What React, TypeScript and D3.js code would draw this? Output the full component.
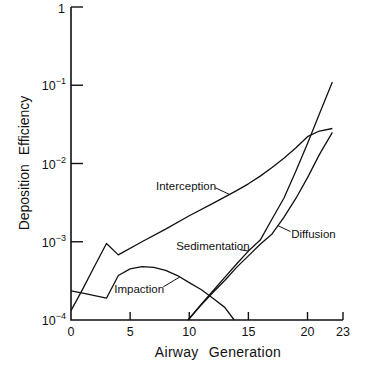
import React, { useEffect, useRef } from 'react';
import * as d3 from 'd3';

// airway generation ticks and decade ticks
const xTicks = [5, 10, 15, 20, 23];
const xTickLabels = [0, 5, 10, 15, 20, 23];
const yTicks = [1e-3, 1e-2, 1e-1, 1];
const yTickExp = [-4, -3, -2, -1];

// series (generation, deposition efficiency)
const interceptionGen = [0, 1, 2, 3, 4, 6, 8, 10, 12, 14, 15, 16, 17, 18, 19, 20, 21, 22.1];
const interceptionVal = [1.32e-4, 2.5e-4, 4.9e-4, 9.5e-4, 6.8e-4, 1.0e-3, 1.45e-3, 2.15e-3, 3.1e-3, 4.5e-3, 5.5e-3, 6.9e-3, 8.9e-3, 1.17e-2, 1.58e-2, 2.2e-2, 2.6e-2, 2.8e-2];

const impactionGen = [0, 1, 2, 3, 4, 5, 6, 7, 8, 9, 10, 11, 12, 13, 13.8];
const impactionVal = [2.35e-4, 2.2e-4, 2.05e-4, 1.9e-4, 3.7e-4, 4.5e-4, 4.8e-4, 4.7e-4, 4.3e-4, 3.7e-4, 3.0e-4, 2.45e-4, 1.9e-4, 1.45e-4, 1.0e-4];

const sedimentationGen = [9.9, 11, 12, 13, 14, 15, 16, 17, 18, 19, 20, 21, 22.1];
const sedimentationVal = [1.0e-4, 1.58e-4, 2.35e-4, 3.5e-4, 5.2e-4, 7.6e-4, 1.05e-3, 1.95e-3, 3.6e-3, 7.9e-3, 1.8e-2, 4.3e-2, 0.11];

const diffusionGen = [9.9, 11, 12, 13, 14, 15, 16, 17, 18, 19, 20, 21, 22.1];
const diffusionVal = [1.0e-4, 1.55e-4, 2.25e-4, 3.2e-4, 4.7e-4, 6.6e-4, 9.3e-4, 1.26e-3, 2.05e-3, 3.55e-3, 6.6e-3, 1.3e-2, 2.5e-2];

// curve labels: text position (gen, value), leader start, leader target gen on the curve
const labels = [
  { text: 'Interception', gen: 9.73, val: 5.0e-3, from: [12.2, 4.9e-3], to: 13.4, series: 0 },
  { text: 'Impaction', gen: 5.77, val: 2.42e-4, from: [7.8, 2.65e-4], to: 9.2, series: 1 },
  { text: 'Sedimentation', gen: 12.0, val: 8.6e-4, from: [14.3, 7.9e-4], to: 15.0, series: 2 },
  { text: 'Diffusion', gen: 20.5, val: 1.22e-3, from: [18.55, 1.35e-3], to: 17.5, series: 3 },
];

const FONT = '"Liberation Sans", Arial, sans-serif';

export default function App() {
  const ref = useRef<SVGSVGElement | null>(null);

  useEffect(() => {
    document.body.style.margin = '0';
    var margin = { top: 7, right: 40, bottom: 46, left: 71 },
      W = 383,
      H = 366;

    var svg = d3.select(ref.current);
    svg.selectAll('*').remove();

    var x = d3.scaleLinear().domain([0, 23]).range([margin.left, W - margin.right]);
    var y = d3.scaleLog().domain([1e-4, 1]).range([H - margin.bottom, margin.top]);

    var g = svg.append('g');

    // axes
    g.append('path')
      .attr('d', `M${x(0)},${y(1)}V${y(1e-4)}H${x(23)}`)
      .attr('fill', 'none')
      .attr('stroke', '#111')
      .attr('stroke-width', 1.6);

    g.selectAll('.xtick')
      .data(xTicks)
      .enter()
      .append('line')
      .attr('x1', (d) => x(d))
      .attr('x2', (d) => x(d))
      .attr('y1', y(1e-4))
      .attr('y2', y(1e-4) - 8)
      .attr('stroke', '#111')
      .attr('stroke-width', 1.4);

    g.selectAll('.ytick')
      .data(yTicks)
      .enter()
      .append('line')
      .attr('x1', x(0))
      .attr('x2', x(0) + 12)
      .attr('y1', (d) => y(d))
      .attr('y2', (d) => y(d))
      .attr('stroke', '#111')
      .attr('stroke-width', 1.4);

    g.selectAll('.xlab')
      .data(xTickLabels)
      .enter()
      .append('text')
      .attr('x', (d) => x(d))
      .attr('y', y(1e-4) + 16)
      .attr('text-anchor', 'middle')
      .attr('font-family', FONT)
      .attr('font-size', 12.5)
      .attr('fill', '#111')
      .text((d) => d);

    // y tick labels 10^n
    var yl = g
      .selectAll('.ylab')
      .data(yTickExp)
      .enter()
      .append('text')
      .attr('x', x(0) - 5)
      .attr('y', (d) => y(Math.pow(10, d)) + 5)
      .attr('text-anchor', 'end')
      .attr('font-family', FONT)
      .attr('font-size', 12.5)
      .attr('fill', '#111');
    yl.append('tspan').text('10');
    yl.append('tspan')
      .attr('dy', -6)
      .attr('font-size', 9)
      .text((d) => '\u2212' + Math.abs(d));

    g.append('text')
      .attr('x', x(0) - 6)
      .attr('y', y(1) + 6)
      .attr('text-anchor', 'end')
      .attr('font-family', FONT)
      .attr('font-size', 12.5)
      .attr('fill', '#111')
      .text('1');

    // axis titles
    g.append('text')
      .attr('x', 218)
      .attr('y', 357)
      .attr('text-anchor', 'middle')
      .attr('font-family', FONT)
      .attr('font-size', 14)
      .attr('letter-spacing', 0.3)
      .attr('word-spacing', 6)
      .attr('fill', '#111')
      .text('Airway Generation');

    g.append('text')
      .attr('transform', 'translate(29,163) rotate(-90)')
      .attr('text-anchor', 'middle')
      .attr('font-family', FONT)
      .attr('font-size', 14)
      .attr('word-spacing', 5)
      .attr('fill', '#111')
      .text('Deposition Efficiency');

    // curves
    var series = [
      [interceptionGen, interceptionVal],
      [impactionGen, impactionVal],
      [sedimentationGen, sedimentationVal],
      [diffusionGen, diffusionVal],
    ];
    var line = d3
      .line<[number, number]>()
      .x((d) => x(d[0]))
      .y((d) => y(d[1]));

    series.forEach(function (s) {
      var pts = s[0].map((gen, i) => [gen, s[1][i]] as [number, number]);
      g.append('path')
        .attr('d', line(pts))
        .attr('fill', 'none')
        .attr('stroke', '#111')
        .attr('stroke-width', 1.3)
        .attr('stroke-linejoin', 'round');
    });

    // labels with leader lines
    labels.forEach(function (l) {
      var s = series[l.series];
      var target = Math.pow(10, d3.scaleLinear().domain(s[0]).range(s[1].map(Math.log10))(l.to));
      g.append('text')
        .attr('x', x(l.gen))
        .attr('y', y(l.val))
        .attr('text-anchor', 'middle')
        .attr('dominant-baseline', 'middle')
        .attr('font-family', FONT)
        .attr('font-size', 11.5)
        .attr('fill', '#111')
        .text(l.text);
      g.append('line')
        .attr('x1', x(l.from[0]))
        .attr('y1', y(l.from[1]))
        .attr('x2', x(l.to))
        .attr('y2', y(target))
        .attr('stroke', '#111')
        .attr('stroke-width', 1);
    });
  }, []);

  return <svg ref={ref} width={383} height={366} style={{ display: 'block', background: '#fff' }} />;
}
